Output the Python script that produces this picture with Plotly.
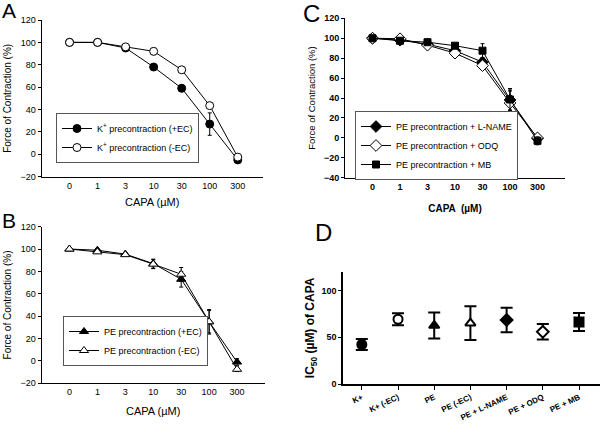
import plotly.graph_objects as go

# CAPA concentrations (category axis)
conc = ['0', '1', '3', '10', '30', '100', '300']

# Panel A - K+ precontraction
k_ec = [100, 100, 95, 78, 59, 27, -5]
k_ec_err = [0, 0, 1, 2, 3, 10, 2]
k_noec = [100, 100, 96, 92, 75.5, 43.5, -2.5]
k_noec_err = [0, 0, 1, 3, 2, 2, 2]

# Panel B - PE precontraction
pe_ec = [100, 99, 95.5, 87, 73, 35, -1]
pe_ec_err = [0, 1, 1, 4, 7, 11, 3]
pe_noec = [100, 97.5, 95, 86.5, 77.5, 35, -7.5]
pe_noec_err = [0, 1, 1, 4, 6, 10, 2]

# Panel C - PE + inhibitors
lname = [100, 98, 94, 87.5, 76, 38, -0.5]
lname_err = [1, 2, 2, 3, 4, 10, 3]
odq = [100, 99.5, 93, 85, 72.5, 35, 0]
odq_err = [1, 1, 2, 3, 3, 12, 3]
mb = [100, 97.5, 96, 92.5, 87.5, 38.5, -3]
mb_err = [1, 2, 2, 2, 7, 11, 4]

# Panel D - IC50 values
groups = ['K+', 'K+ (-EC)', 'PE', 'PE (-EC)', 'PE + L-NAME', 'PE + ODQ', 'PE + MB']
ic50 = [42.2, 69.2, 62.5, 65.0, 68.4, 55.8, 66.3]
ic50_err = [6, 6.5, 13.8, 18, 13.2, 8.3, 9.6]
ic50_symbols = ['circle', 'circle-open', 'triangle-up', 'triangle-up-open',
                'diamond', 'diamond-open', 'square']

FONT = 'Liberation Sans, Arial, sans-serif'
W, H = 600, 425


def xd(a, b):
    return [a / W, b / W]


def yd(top, bottom):
    return [1 - bottom / H, 1 - top / H]


fig = go.Figure()


def curve(y, err, sym, name, xa, ya, legend, size=8):
    fill = 'black' if 'open' not in sym else 'white'
    fig.add_trace(go.Scatter(
        x=conc, y=y, mode='lines+markers', name=name,
        xaxis=xa, yaxis=ya, legend=legend,
        line=dict(color='black', width=1),
        marker=dict(symbol=sym.replace('-open', ''), size=size, color=fill,
                    line=dict(color='black', width=1)),
        error_y=dict(type='data', array=err, color='black', thickness=1, width=2),
    ))


curve(k_ec, k_ec_err, 'circle', 'K<sup>+</sup> precontraction (+EC)', 'x', 'y', 'legend')
curve(k_noec, k_noec_err, 'circle-open', 'K<sup>+</sup> precontraction (-EC)', 'x', 'y', 'legend')

curve(pe_ec, pe_ec_err, 'triangle-up', 'PE precontraction (+EC)', 'x2', 'y2', 'legend2')
curve(pe_noec, pe_noec_err, 'triangle-up-open', 'PE precontraction (-EC)', 'x2', 'y2', 'legend2')

curve(lname, lname_err, 'diamond', 'PE precontraction + L-NAME', 'x3', 'y3', 'legend3', 9)
curve(odq, odq_err, 'diamond-open', 'PE precontraction + ODQ', 'x3', 'y3', 'legend3', 9)
curve(mb, mb_err, 'square', 'PE precontraction + MB', 'x3', 'y3', 'legend3', 7)

for g, v, e, s in zip(groups, ic50, ic50_err, ic50_symbols):
    fig.add_trace(go.Scatter(
        x=[g], y=[v], mode='markers', showlegend=False,
        xaxis='x4', yaxis='y4',
        marker=dict(symbol=s.replace('-open', ''), size=9,
                    color='white' if 'open' in s else 'black',
                    line=dict(color='black', width=2)),
        error_y=dict(type='data', array=[e], color='black', thickness=2, width=6),
    ))

line_ax = dict(showline=True, linecolor='black', linewidth=1, showgrid=False,
               zeroline=False, automargin=False,
               tickfont=dict(family=FONT, size=9, color='black'))

xcat = dict(line_ax, type='category', range=[-1, 7], ticks='')
ycurve = dict(line_ax, ticks='outside', ticklen=3, tickcolor='black', dtick=20)

leg = dict(xanchor='left', yanchor='top', bordercolor='#555555', borderwidth=1,
           bgcolor='white', font=dict(family=FONT, size=9), tracegroupgap=0,
           itemwidth=30)

fig.update_layout(
    width=W, height=H,
    margin=dict(l=0, r=0, t=0, b=0, autoexpand=False),
    paper_bgcolor='white', plot_bgcolor='white',
    font=dict(family=FONT, color='black'),
    xaxis=dict(xcat, domain=xd(41.5, 263), anchor='y', range=[-1, 6.9],
               title=dict(text='CAPA (µM)', font=dict(size=11), standoff=8)),
    yaxis=dict(ycurve, domain=yd(20, 176.7), anchor='x', range=[-20, 120],
               title=dict(text='Force of Contraction (%)', font=dict(size=10), standoff=6)),
    xaxis2=dict(xcat, domain=xd(41.5, 265), anchor='y2',
                title=dict(text='CAPA (µM)', font=dict(size=11), standoff=11)),
    yaxis2=dict(ycurve, domain=yd(226.7, 383.3), anchor='x2', range=[-20, 120],
                title=dict(text='Force of Contraction (%)', font=dict(size=10), standoff=6)),
    xaxis3=dict(xcat, domain=xd(345, 565), anchor='y3',
                tickfont=dict(family=FONT, size=9, color='black', weight='bold'),
                title=dict(text='<b>CAPA  (µM)</b>', font=dict(size=10), standoff=14)),
    yaxis3=dict(ycurve, domain=yd(18.3, 177.7), anchor='x3', range=[-40, 120],
                tickfont=dict(family=FONT, size=9, color='black', weight='bold'),
                title=dict(text='Force of Contraction (%)', font=dict(size=9.5), standoff=6)),
    xaxis4=dict(line_ax, type='category', domain=xd(343, 600), anchor='y4',
                range=[-0.52, 6.58], ticks='outside', ticklen=4, tickcolor='black',
                linewidth=1.5, tickangle=-25,
                tickfont=dict(family=FONT, size=8, color='black', weight='bold')),
    yaxis4=dict(line_ax, domain=yd(271.7, 384), anchor='x4', range=[0, 120],
                tickvals=[0, 50, 100], ticks='outside', ticklen=3, tickcolor='black',
                linewidth=1.5,
                tickfont=dict(family=FONT, size=9, color='black', weight='bold'),
                title=dict(text='<b>IC<sub>50</sub> (µM) of CAPA</b>', font=dict(size=12),
                           standoff=4)),
    legend=dict(leg, x=56 / W, y=1 - 113 / H),
    legend2=dict(leg, x=63 / W, y=1 - 316 / H),
    legend3=dict(leg, x=355 / W, y=1 - 111 / H),
)

for letter, px, py, fs in [('A', 0, -3, 21), ('B', 0, 207, 21),
                           ('C', 301, -2, 24), ('D', 313, 217, 24)]:
    fig.add_annotation(text=letter, x=px / W, y=1 - py / H, xref='paper', yref='paper',
                       xanchor='left', yanchor='top', showarrow=False,
                       font=dict(family=FONT, size=fs, color='black'))

# the page's default body margin would shift the whole figure by 8px
fig.write_html('out.html', config={'displayModeBar': False},
               post_script="document.body.style.margin='0';")
